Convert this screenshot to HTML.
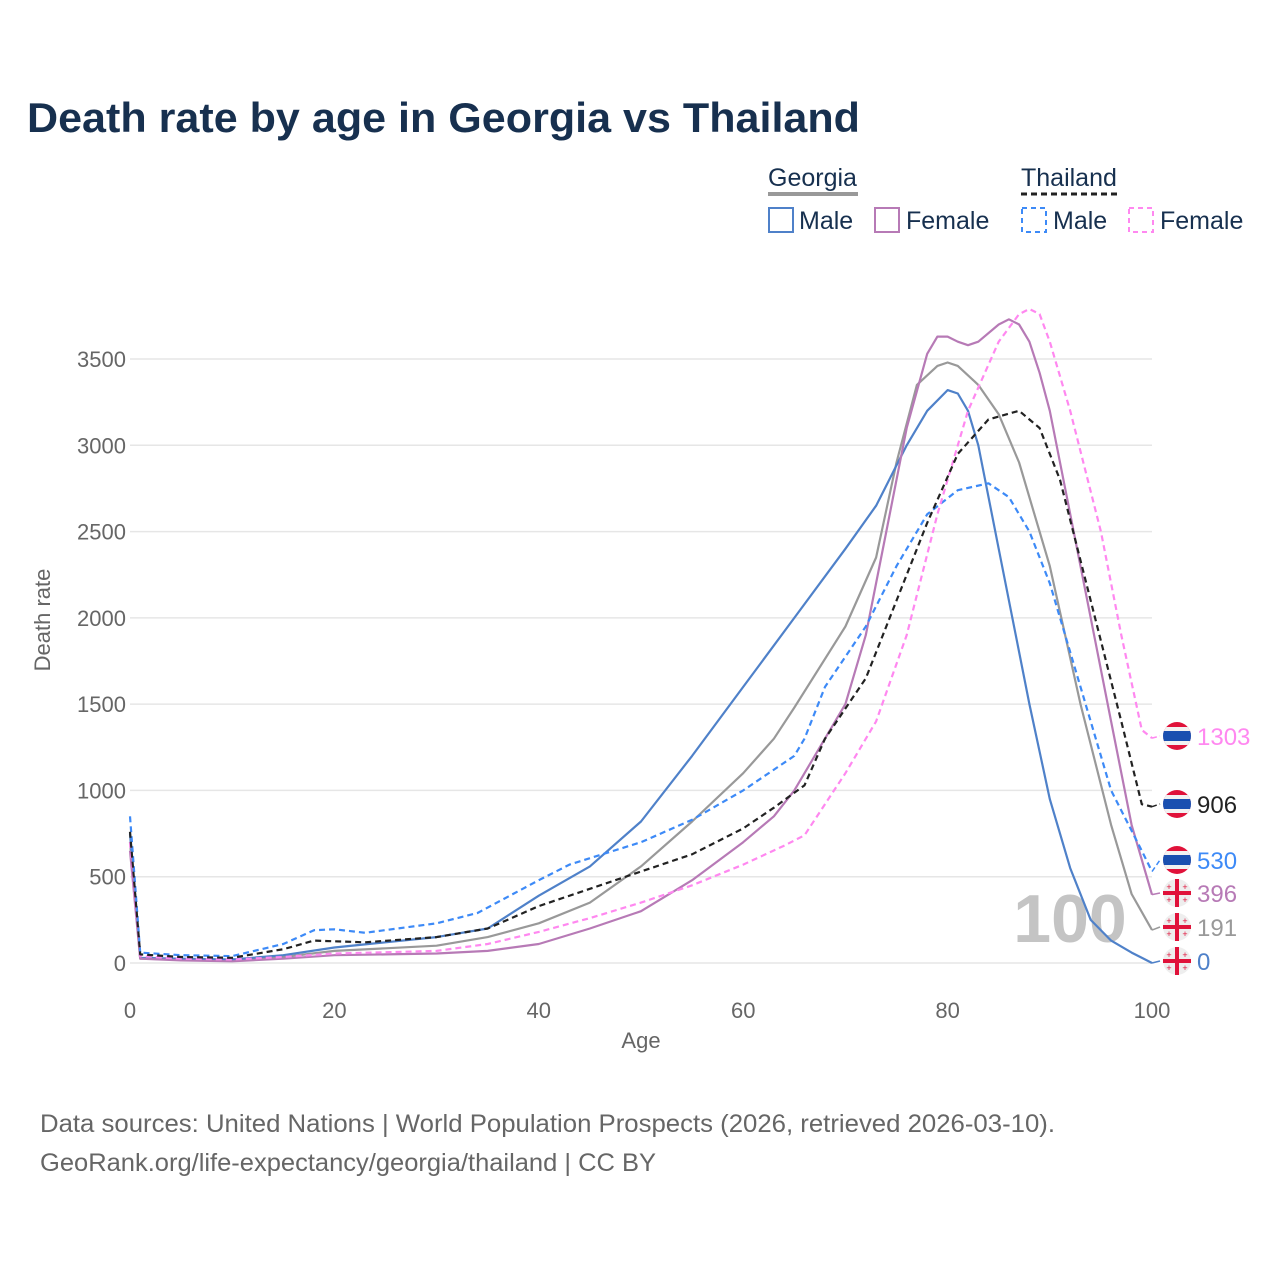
<!DOCTYPE html>
<html><head><meta charset="utf-8"><style>
body{margin:0;width:1280px;height:1280px;background:#fff;font-family:"Liberation Sans",sans-serif;overflow:hidden}
svg{position:absolute;left:0;top:0}
</style></head><body>
<svg id="chart" width="1280" height="1280">
<text x="27" y="132" font-size="42" font-weight="bold" fill="#17304f" textLength="833" lengthAdjust="spacingAndGlyphs">Death rate by age in Georgia vs Thailand</text>
<g font-size="25" fill="#17304f">
<text x="768" y="186">Georgia</text>
<line x1="768" y1="194" x2="858" y2="194" stroke="#999" stroke-width="4"/>
<text x="1021" y="186">Thailand</text>
<line x1="1021" y1="194" x2="1119" y2="194" stroke="#222" stroke-width="3" stroke-dasharray="6,4"/>
<rect x="769" y="208" width="24" height="24" fill="none" stroke="#4f81c9" stroke-width="2"/>
<text x="799" y="229">Male</text>
<rect x="875" y="208" width="24" height="24" fill="none" stroke="#b77ab6" stroke-width="2"/>
<text x="906" y="229">Female</text>
<rect x="1022" y="208" width="24" height="24" fill="none" stroke="#3d8af7" stroke-width="2" stroke-dasharray="5,4"/>
<text x="1053" y="229">Male</text>
<rect x="1129" y="208" width="24" height="24" fill="none" stroke="#ff88f0" stroke-width="2" stroke-dasharray="5,4"/>
<text x="1160" y="229">Female</text>
</g>
<g id="grid"></g>
<text x="1070" y="942" font-size="68" font-weight="bold" fill="#c4c4c4" text-anchor="middle">100</text>
<g id="series"></g>
<g id="labels"></g>
<text x="641" y="1048" font-size="22" fill="#666" text-anchor="middle">Age</text>
<text transform="translate(50,620) rotate(-90)" font-size="22" fill="#666" text-anchor="middle">Death rate</text>
<text x="40" y="1132" font-size="25" fill="#666" textLength="1015" lengthAdjust="spacingAndGlyphs">Data sources: United Nations | World Population Prospects (2026, retrieved 2026-03-10).</text>
<text x="40" y="1171" font-size="25" fill="#666" textLength="616" lengthAdjust="spacingAndGlyphs">GeoRank.org/life-expectancy/georgia/thailand | CC BY</text>
</svg>
<script>
const yTicks=[0,500,1000,1500,2000,2500,3000,3500];
const xTicks=[0,20,40,60,80,100];
const geoMaleAges=[0,1,5,10,15,20,25,30,35,40,45,50,55,60,65,70,73,76,78,80,81,82,83,85,88,90,92,94,96,98,100];
const geoMale=[750,30,25,20,45,90,120,150,200,390,560,820,1200,1600,2000,2400,2650,3000,3200,3320,3300,3200,3000,2400,1500,950,550,250,130,60,0];
const geoTotAges=[0,1,5,10,15,20,25,30,35,40,45,50,55,60,63,65,70,73,75,77,79,80,81,83,85,87,90,93,96,98,100];
const geoTotal=[700,25,20,15,35,70,85,100,150,230,350,560,820,1100,1300,1480,1950,2350,2900,3350,3460,3480,3460,3350,3180,2900,2300,1500,800,400,191];
const geoFemAges=[0,1,5,10,15,20,25,30,35,40,45,50,55,60,63,65,70,72,74,76,78,79,80,81,82,83,85,86,87,88,89,90,93,96,98,100];
const geoFemale=[650,25,15,10,25,45,50,55,70,110,200,300,480,700,850,1000,1500,1900,2500,3100,3530,3630,3630,3600,3580,3600,3700,3730,3700,3600,3420,3200,2300,1400,800,396];
const thaMaleAges=[0,1,5,10,15,18,20,23,30,34,40,43,50,55,60,65,66,68,72,75,78,81,84,86,88,90,93,96,99,100];
const thaMale=[850,60,45,40,110,190,195,175,230,290,480,570,700,830,1000,1200,1300,1600,1950,2300,2600,2740,2780,2700,2500,2200,1600,1000,650,530];
const thaTotAges=[0,1,5,10,15,18,23,30,35,40,45,50,55,60,63,66,68,72,75,78,81,84,87,89,91,94,97,99,100];
const thaTotal=[760,50,35,30,80,130,120,150,200,330,430,530,630,780,900,1030,1300,1650,2100,2550,2950,3150,3200,3100,2800,2100,1400,920,906];
const thaFemAges=[0,1,5,10,15,20,30,35,40,45,50,55,60,64,66,70,73,76,79,82,85,87,88,89,90,92,95,97,99,100];
const thaFemale=[700,40,25,20,35,55,70,110,180,260,350,450,570,680,740,1100,1400,1900,2600,3200,3600,3760,3790,3760,3600,3200,2500,1900,1350,1303];
const endValues=[1303,906,530,396,191,0];

const NS="http://www.w3.org/2000/svg";
const X=a=>130+a*10.22;
const Y=v=>963-v*0.172571;
const grid=document.getElementById('grid');
yTicks.forEach(t=>{
  const l=document.createElementNS(NS,'line');
  l.setAttribute('x1',130);l.setAttribute('x2',1152);l.setAttribute('y1',Y(t));l.setAttribute('y2',Y(t));
  l.setAttribute('stroke','#e6e6e6');l.setAttribute('stroke-width','1.5');
  
  
  grid.appendChild(l);
  const tx=document.createElementNS(NS,'text');
  tx.setAttribute('x',126);tx.setAttribute('y',Y(t)+8);tx.setAttribute('text-anchor','end');
  tx.setAttribute('font-size','22');tx.setAttribute('fill','#666');tx.textContent=t;
  
  
  grid.appendChild(tx);
});
xTicks.forEach(t=>{
  const tx=document.createElementNS(NS,'text');
  tx.setAttribute('x',X(t));tx.setAttribute('y',1018);tx.setAttribute('text-anchor','middle');
  tx.setAttribute('font-size','22');tx.setAttribute('fill','#666');tx.textContent=t;
  
  
  grid.appendChild(tx);
});
const series=[
 [geoTotAges,geoTotal,'#999',null,'georgia-total-line',4],
 [geoMaleAges,geoMale,'#4f81c9',null,'georgia-male-line',5],
 [geoFemAges,geoFemale,'#b77ab6',null,'georgia-female-line',3],
 [thaMaleAges,thaMale,'#3d8af7','6,4','thailand-male-line',2],
 [thaFemAges,thaFemale,'#ff88f0','6,4','thailand-female-line',0],
 [thaTotAges,thaTotal,'#222','6,4','thailand-total-line',1]
];
const sg=document.getElementById('series');
const labelY=[736,804,860,893,927,961];
series.forEach(s=>{
  const [ages,vals,col,dash,name,li]=s;
  let d=ages.map((a,i)=>(i?'L':'M')+X(a).toFixed(1)+','+Y(vals[i]).toFixed(1)).join(' ');
  const p=document.createElementNS(NS,'path');
  p.setAttribute('d',d);p.setAttribute('fill','none');p.setAttribute('stroke',col);
  p.setAttribute('stroke-width','2.2');p.setAttribute('stroke-linejoin','round');
  if(dash)p.setAttribute('stroke-dasharray',dash);
  
  
  sg.appendChild(p);
  const c=document.createElementNS(NS,'path');
  c.setAttribute('d','M'+X(100)+','+Y(vals[vals.length-1])+' L1160,'+labelY[li]);
  c.setAttribute('fill','none');c.setAttribute('stroke',col);c.setAttribute('stroke-width','1.5');
  if(dash)c.setAttribute('stroke-dasharray','5,3');
  
  
  sg.appendChild(c);
});
const lg=document.getElementById('labels');
const labCols=['#ff88f0','#222','#3d8af7','#b77ab6','#999','#4f81c9'];
endValues.forEach((v,i)=>{
  const cy=labelY[i];const thai=i<3;
  const g=document.createElementNS(NS,'g');
  
  
  if(thai){
    g.innerHTML=`<clipPath id="cf${i}"><circle cx="1177" cy="${cy}" r="14"/></clipPath><g clip-path="url(#cf${i})"><rect x="1163" y="${cy-14}" width="28" height="28" fill="#e0123a"/><rect x="1163" y="${cy-9}" width="28" height="18" fill="#f2f2f2"/><rect x="1163" y="${cy-5}" width="28" height="10" fill="#1a4fb0"/></g>`;
  }else{
    g.innerHTML=`<circle cx="1177" cy="${cy}" r="14" fill="#eee"/><rect x="1175" y="${cy-14}" width="4" height="28" fill="#e0123a"/><rect x="1163" y="${cy-2}" width="28" height="4" fill="#e0123a"/><text x="1169" y="${cy-3}" font-size="9" fill="#e0123a" text-anchor="middle">+</text><text x="1185" y="${cy-3}" font-size="9" fill="#e0123a" text-anchor="middle">+</text><text x="1169" y="${cy+10}" font-size="9" fill="#e0123a" text-anchor="middle">+</text><text x="1185" y="${cy+10}" font-size="9" fill="#e0123a" text-anchor="middle">+</text>`;
  }
  lg.appendChild(g);
  const t=document.createElementNS(NS,'text');
  t.setAttribute('x',1197);t.setAttribute('y',cy+9);t.setAttribute('font-size','24');
  t.setAttribute('fill',labCols[i]);t.textContent=v;
  
  
  lg.appendChild(t);
});
</script>
</body></html>
